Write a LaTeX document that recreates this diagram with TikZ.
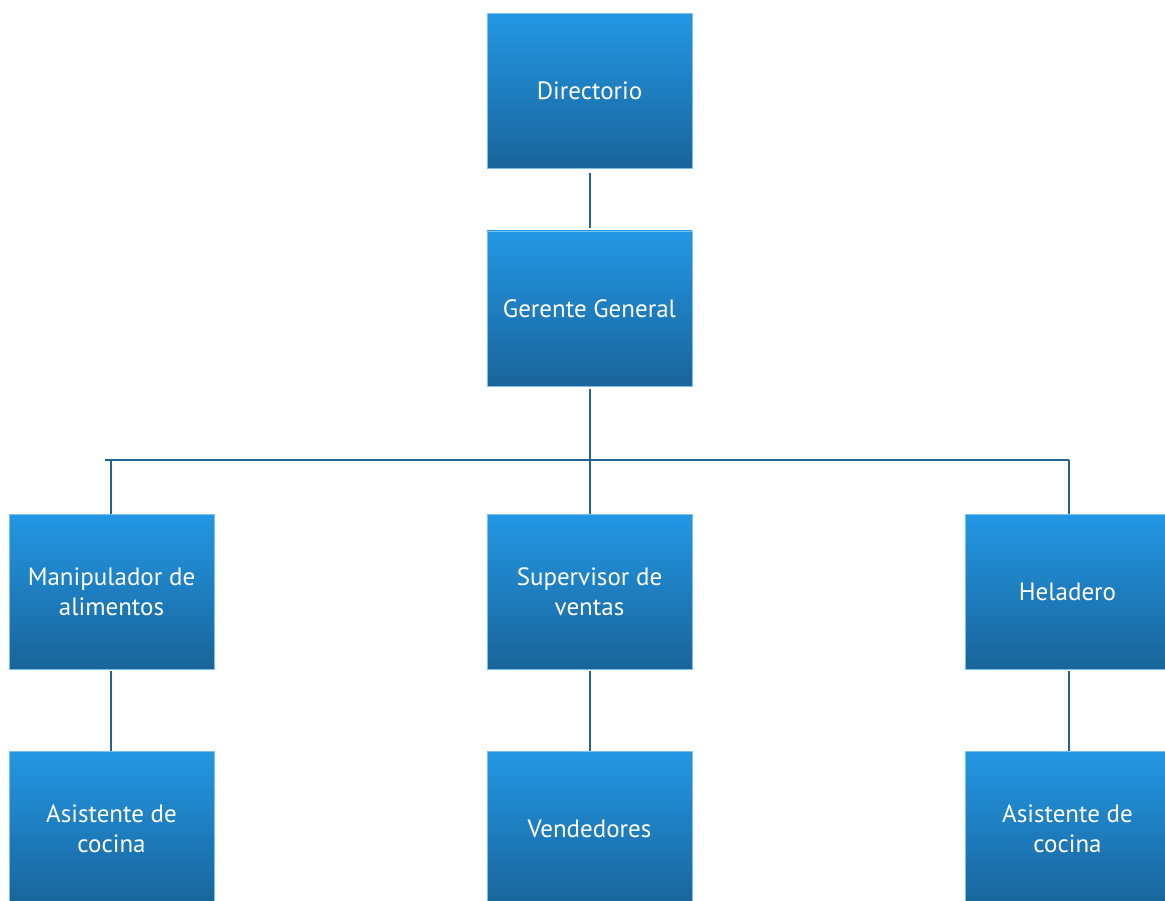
\documentclass[tikz,border=0pt]{standalone}
\usepackage{fontspec}
\setmainfont{PT Sans}
\definecolor{boxtop}{HTML}{2397E4}
\definecolor{boxbot}{HTML}{19649A}
\definecolor{linec}{HTML}{1F6492}
\begin{document}
\begin{tikzpicture}[x=1pt,y=-1pt,
  orgbox/.style={rectangle, minimum width=205pt, minimum height=155pt, inner sep=0pt,
    top color=boxtop, bottom color=boxbot, draw=boxtop!60!white, line width=0.6pt,
    text=white, align=center, font=\fontsize{25}{30}\selectfont},
  conn/.style={draw=linec, line width=1.8pt}]
\useasboundingbox (0,0) rectangle (1165,901);
\begin{scope}
\clip (0,0) rectangle (1165,901);
\node[orgbox] (dir) at (589.5,91) {Directorio};
\node[orgbox] (ger) at (589.5,308.5) {Gerente General};
\node[orgbox] (man) at (111.5,591.5) {Manipulador de\\alimentos};
\node[orgbox] (sup) at (589.5,591.5) {Supervisor de\\ventas};
\node[orgbox] (hel) at (1067.5,591.5) {Heladero};
\node[orgbox] (asi1) at (111.5,828.5) {Asistente de\\cocina};
\node[orgbox] (ven) at (589.5,828.5) {Vendedores};
\node[orgbox] (asi2) at (1067.5,828.5) {Asistente de\\cocina};
\coordinate (hl) at (105,460);
\coordinate (hm) at (590,460);
\coordinate (hr) at (1069,460);
\draw[conn] ([yshift=-4pt]dir.south -| hm) -- ([yshift=3pt]ger.north -| hm);
\draw[conn] ([yshift=-3pt]ger.south -| hm) -- (hm);
\draw[conn] (hl) -- (hr);
\draw[conn] (111,460) -- (man.north -| 111,0);
\draw[conn] (hm) -- (sup.north -| hm);
\draw[conn] (hr) -- (hel.north -| hr);
\draw[conn] ([yshift=-2pt]man.south -| 111,0) -- (asi1.north -| 111,0);
\draw[conn] ([yshift=-2pt]sup.south -| hm) -- (ven.north -| hm);
\draw[conn] ([yshift=-2pt]hel.south -| hr) -- (asi2.north -| hr);
\end{scope}
\end{tikzpicture}
\end{document}
